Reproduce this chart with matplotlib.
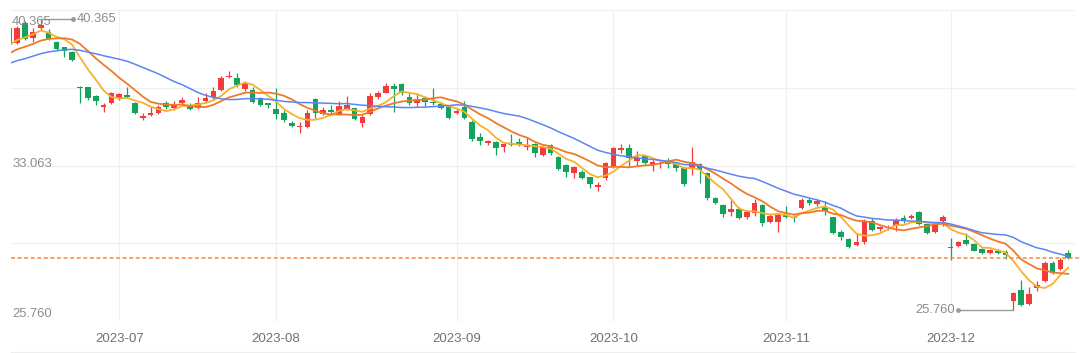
import numpy as np
import pandas as pd
import matplotlib.pyplot as plt
from matplotlib.lines import Line2D

plt.rcParams['font.family'] = ['Liberation Sans', 'DejaVu Sans']

# US trading days shown on the chart
holidays = ['2023-06-19', '2023-07-04', '2023-09-04', '2023-11-23']
dates = pd.bdate_range('2023-06-12', '2023-12-22', freq='C', holidays=holidays)

open_ = [39.07, 39.16, 40.16, 39.41, 39.91, 39.74, 39.21, 38.96, 38.74, 36.98,
         36.95, 36.51, 35.94, 36.17, 36.40, 36.56, 36.17, 35.39, 35.56, 35.64,
         36.17, 35.92, 36.17, 36.06, 35.89, 36.27, 36.45, 36.81, 37.45, 37.40,
         36.85, 36.81, 36.40, 36.14, 35.84, 35.64, 35.17, 34.94, 34.97, 36.35,
         35.61, 35.81, 35.61, 35.84, 35.89, 35.14, 35.61, 36.45, 36.68, 37.01,
         37.11, 36.45, 36.14, 36.40, 36.23, 36.11, 35.94, 35.64, 35.97, 35.22,
         34.44, 34.13, 34.22, 33.96, 34.17, 34.22, 33.96, 34.10, 33.55, 34.05,
         33.46, 33.04, 32.66, 32.71, 32.43, 31.95, 32.38, 32.96, 33.80, 33.88,
         33.26, 33.50, 33.04, 33.10, 33.21, 33.10, 32.88, 32.83, 33.10, 32.63,
         31.37, 31.03, 30.70, 30.82, 30.42, 30.62, 31.03, 30.20, 30.20, 30.53,
         30.45, 30.89, 31.29, 31.08, 30.95, 30.41, 29.69, 29.31, 29.03, 29.19,
         30.25, 29.81, 29.86, 29.98, 30.37, 30.37, 30.70, 30.08, 29.69, 30.25,
         28.94, 28.99, 29.28, 29.08, 28.81, 28.61, 28.74, 28.69, 26.23, 26.77,
         26.06, 26.85, 27.23, 28.14, 27.80, 28.61]
high = [39.98, 40.05, 40.28, 39.91, 40.365, 39.86, 39.25, 38.99, 38.78, 37.01,
        36.98, 36.55, 36.14, 36.73, 36.68, 36.98, 36.22, 35.64, 35.97, 36.06,
        36.27, 36.27, 36.44, 36.14, 36.44, 36.65, 36.98, 37.52, 37.78, 37.68,
        37.28, 36.98, 36.45, 36.17, 36.90, 35.81, 35.27, 35.22, 35.81, 36.40,
        35.97, 36.06, 36.27, 36.51, 35.92, 35.56, 36.68, 36.78, 37.18, 37.15,
        37.15, 36.65, 36.68, 36.51, 36.90, 36.23, 35.97, 35.89, 36.27, 35.31,
        34.64, 34.32, 34.27, 34.17, 34.60, 34.39, 34.39, 34.17, 33.98, 34.10,
        33.50, 33.09, 32.99, 32.80, 32.46, 32.20, 33.21, 33.96, 34.10, 34.10,
        33.76, 33.55, 33.29, 33.29, 33.38, 33.13, 32.93, 33.93, 33.16, 32.68,
        31.45, 31.08, 31.29, 30.92, 30.78, 31.33, 31.08, 30.58, 30.62, 31.00,
        30.53, 31.37, 31.37, 31.33, 31.25, 30.45, 29.78, 29.36, 29.61, 30.33,
        30.37, 30.00, 30.05, 30.37, 30.53, 30.58, 30.75, 30.10, 30.12, 30.53,
        29.36, 29.25, 29.61, 29.12, 28.86, 28.83, 28.80, 28.77, 26.66, 27.27,
        26.90, 27.22, 28.20, 28.20, 28.37, 28.78]
low = [38.98, 39.10, 39.30, 39.24, 39.85, 39.32, 38.80, 38.49, 38.28, 36.14,
       36.31, 36.06, 35.72, 36.12, 36.30, 36.40, 35.60, 35.30, 35.51, 35.61,
       35.86, 35.81, 36.06, 35.79, 35.84, 36.17, 36.31, 36.75, 37.40, 36.98,
       36.78, 36.17, 36.01, 35.89, 35.34, 35.22, 34.94, 34.67, 34.89, 35.39,
       35.56, 35.64, 35.56, 35.81, 35.30, 34.97, 35.56, 36.35, 36.65, 35.72,
       36.56, 36.06, 36.00, 36.01, 36.06, 35.84, 35.34, 35.60, 35.34, 34.27,
       34.05, 34.05, 33.55, 33.71, 34.00, 34.00, 33.80, 33.43, 33.50, 33.55,
       32.78, 32.46, 32.38, 32.33, 31.87, 31.75, 32.30, 32.90, 33.65, 32.99,
       32.99, 33.08, 32.76, 32.91, 32.91, 32.76, 31.99, 32.54, 32.16, 31.30,
       31.08, 30.45, 30.48, 30.32, 30.32, 30.48, 29.98, 30.15, 29.70, 30.37,
       30.20, 30.82, 31.03, 31.00, 30.53, 29.60, 29.27, 28.86, 28.98, 29.10,
       29.72, 29.72, 29.78, 29.72, 30.12, 30.33, 30.03, 29.60, 29.65, 29.98,
       28.27, 28.94, 29.03, 28.70, 28.56, 28.56, 28.56, 28.31, 25.76, 25.96,
       26.01, 26.72, 27.15, 27.55, 27.75, 28.30]
close = [39.91, 39.91, 39.36, 39.74, 40.08, 39.36, 38.86, 38.79, 38.32, 36.90,
         36.40, 36.27, 36.06, 36.65, 36.61, 36.45, 35.64, 35.51, 35.67, 35.97,
         35.97, 36.09, 36.31, 35.84, 36.17, 36.40, 36.76, 37.40, 37.52, 37.06,
         37.18, 36.23, 36.06, 36.06, 35.61, 35.31, 35.00, 35.00, 35.64, 35.64,
         35.81, 35.72, 36.01, 36.06, 35.34, 35.47, 36.51, 36.68, 37.01, 36.85,
         36.65, 36.14, 36.35, 36.23, 36.14, 35.89, 35.39, 35.77, 35.39, 34.34,
         34.27, 34.23, 33.88, 34.10, 34.05, 34.10, 34.05, 33.63, 33.93, 33.63,
         32.83, 32.71, 32.93, 32.38, 32.09, 32.04, 33.13, 33.88, 33.88, 33.38,
         33.38, 33.13, 33.21, 33.16, 33.10, 32.88, 32.09, 33.21, 32.79, 31.37,
         31.15, 30.58, 30.82, 30.37, 30.70, 31.12, 30.11, 30.48, 30.53, 30.45,
         30.37, 31.29, 31.12, 31.24, 30.75, 29.65, 29.44, 28.94, 29.19, 30.24,
         29.78, 29.91, 29.92, 30.28, 30.25, 30.48, 30.08, 29.64, 30.08, 30.45,
         28.86, 29.19, 29.08, 28.74, 28.61, 28.77, 28.61, 28.52, 26.60, 26.01,
         26.55, 27.02, 28.14, 27.63, 28.27, 28.36]

# closes before the visible window, only used to start the moving averages
pre_close = [37.15, 37.35, 37.30, 37.55, 37.60, 37.75, 37.70, 37.95, 37.90, 38.15,
             37.95, 38.05, 38.35, 38.40, 38.50, 38.60, 38.75, 38.95, 39.14]

y_labels = ['40.365', '33.063', '25.760']

df = pd.DataFrame({'Open': open_, 'High': high, 'Low': low, 'Close': close}, index=dates)
all_close = pd.Series(pre_close + close)
k = len(pre_close)
ma5 = all_close.rolling(5).mean().iloc[k:].values
ma10 = all_close.rolling(10).mean().iloc[k:].values
ma20 = all_close.rolling(20).mean().iloc[k:].values

n = len(df)
x = np.arange(n)
up = df['Close'] >= df['Open']
colors = np.where(up, '#f23b3b', '#13a35a')

fig = plt.figure(figsize=(10.8, 3.53), dpi=100)
ax = fig.add_axes([11 / 1080, 32 / 353, 1064 / 1080, 311 / 353])
ax.set_xlim((11 - 9.46) / 7.843, (1075 - 9.46) / 7.843)
ylo, yhi = 25.208, 40.83
ax.set_ylim(ylo, yhi)

for yv in np.linspace(ylo, yhi, 5):
    ax.axhline(yv, color='#f0f0f0', lw=0.9, zorder=0)

month_idx = [i for i in range(1, n) if dates[i].month != dates[i - 1].month]
for i in month_idx:
    ax.axvline(i, color='#f0f0f0', lw=0.9, zorder=0)

# candles
ax.vlines(x, df['Low'], df['High'], colors=colors, lw=0.9, zorder=2)
body_lo = np.minimum(df['Open'], df['Close'])
body_h = np.maximum(np.abs(df['Close'] - df['Open']), 0.035)
ax.bar(x, body_h, bottom=body_lo, width=0.72, color=colors, lw=0, zorder=3)

ax.plot(x, ma5, color='#f8b12e', lw=1.3, zorder=4)
ax.plot(x, ma10, color='#f07a2a', lw=1.3, zorder=4)
ax.plot(x, ma20, color='#5e84f2', lw=1.1, zorder=4)

# last price line, runs to the right edge of the picture
ax.axhline(df['Close'].iloc[-1], xmax=1.006, color='#fa8636', lw=1.1,
           ls=(0, (2.6, 1.7)), zorder=5, clip_on=False)

# highest / lowest markers
ih = int(np.argmax(high))
il = int(np.argmin(low))
hv, lv = high[ih], low[il]
ax.plot([ih, ih + 4.14], [hv, hv], color='#9a9a9a', lw=1, zorder=6)
ax.plot(ih + 4.14, hv, 'o', ms=2.5, color='#9a9a9a', zorder=6)
ax.text(ih + 4.6, hv, f'{hv:.3f}', ha='left', va='center', fontsize=9.4,
        color='#8c8c8c', zorder=7)
ax.plot([il, il - 7.0], [lv, lv], color='#9a9a9a', lw=1, zorder=6)
ax.plot(il - 7.0, lv, 'o', ms=2.5, color='#9a9a9a', zorder=6)
ax.text(il - 7.4, lv, f'{lv:.3f}', ha='right', va='center', fontsize=9.4,
        color='#8c8c8c', zorder=7)

# y axis labels: max, middle, min
y_vals = [hv, (hv + lv) / 2, lv]
y_offs = [-3, 1, -3.5]
for lab, yv, off in zip(y_labels, y_vals, y_offs):
    ax.annotate(lab, xy=(0, yv), xycoords=('axes fraction', 'data'),
                xytext=(1, off), textcoords='offset pixels', ha='left', va='center',
                fontsize=9.4, color='#8c8c8c', zorder=8)

ax.set_yticks([])
ax.set_xticks(month_idx, labels=[dates[i].strftime('%Y-%m') for i in month_idx])
ax.tick_params(axis='x', length=0, pad=8.5, labelsize=9.5, labelcolor='#6e7079')
for s in ax.spines.values():
    s.set_visible(False)

fig.add_artist(Line2D([11 / 1080, 1075 / 1080], [1.5 / 353, 1.5 / 353],
                      color='#eeeeee', lw=0.9))

fig.savefig('out.png', dpi=100)
